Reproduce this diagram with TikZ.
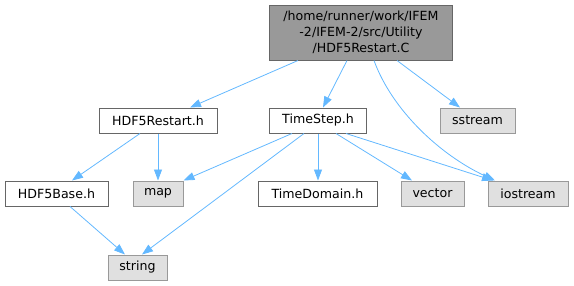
\documentclass[tikz,border=0pt]{standalone}
\usepackage{fontspec}
\setmainfont{DejaVu Sans}
\usetikzlibrary{arrows.meta}
\definecolor{edgeblue}{HTML}{63B8FF}
\definecolor{bordergray}{HTML}{666666}
\definecolor{rootfill}{HTML}{999999}
\definecolor{sysfill}{HTML}{E0E0E0}
\definecolor{sysborder}{HTML}{999999}
\tikzset{
  base/.style={rectangle, inner sep=0pt, minimum height=25pt, font=\fontsize{12.6pt}{15pt}\selectfont, line width=1pt},
  filebox/.style={base, draw=bordergray, fill=white},
  sysbox/.style={base, draw=sysborder, fill=sysfill},
  rootbox/.style={base, draw=bordergray, fill=rootfill, align=center, font=\fontsize{12.6pt}{16pt}\selectfont},
  dep/.style={draw=edgeblue, line width=0.8pt, -{Triangle[length=11pt,width=8pt]}}
}
\begin{document}
\begin{tikzpicture}[x=1pt,y=-1pt]
\useasboundingbox (0,0) rectangle (574,285);
\node[rootbox, minimum width=183pt, minimum height=55pt] (root) at (361,32.5) {/home/runner/work/IFEM\\-2/IFEM-2/src/Utility\\/HDF5Restart.C};
\node[filebox, minimum width=118pt] (hr) at (158,120.5) {HDF5Restart.h};
\node[filebox, minimum width=97pt] (ts) at (318,120.5) {TimeStep.h};
\node[sysbox, minimum width=75pt] (ss) at (477.5,120.5) {sstream};
\node[filebox, minimum width=103pt] (hb) at (56.5,193.5) {HDF5Base.h};
\node[sysbox, minimum width=50pt] (map) at (158,193.5) {map};
\node[filebox, minimum width=119pt] (td) at (317.5,193.5) {TimeDomain.h};
\node[sysbox, minimum width=63pt] (vec) at (432.5,193.5) {vector};
\node[sysbox, minimum width=80pt] (ios) at (528,193.5) {iostream};
\node[sysbox, minimum width=59pt] (str) at (137.5,267.5) {string};

\draw[dep] (root.south -| 298,0) -- (hr.north -| 190,0);
\draw[dep] (root.south -| 347,0) -- (ts.north -| 323,0);
\draw[dep] (root.south -| 397,0) -- (ss.north -| 460,0);
\draw[dep] (root.south -| 374,0) .. controls (392,110) and (440,155) .. (ios.north -| 495,0);
\draw[dep] (hr.south -| 140,0) -- (hb.north -| 72,0);
\draw[dep] (hr.south -| 158,0) -- (map.north);
\draw[dep] (hb.south -| 70,0) -- (str.north -| 125,0);
\draw[dep] (ts.south -| 292,0) -- (map.north east);
\draw[dep] (ts.south -| 304,0) -- (str.north -| 142,0);
\draw[dep] (ts.south -| 318,0) -- (td.north -| 318,0);
\draw[dep] (ts.south -| 336,0) -- (vec.north -| 412,0);
\draw[dep] (ts.south -| 346,0) -- (ios.north -| 493,0);
\end{tikzpicture}
\end{document}
